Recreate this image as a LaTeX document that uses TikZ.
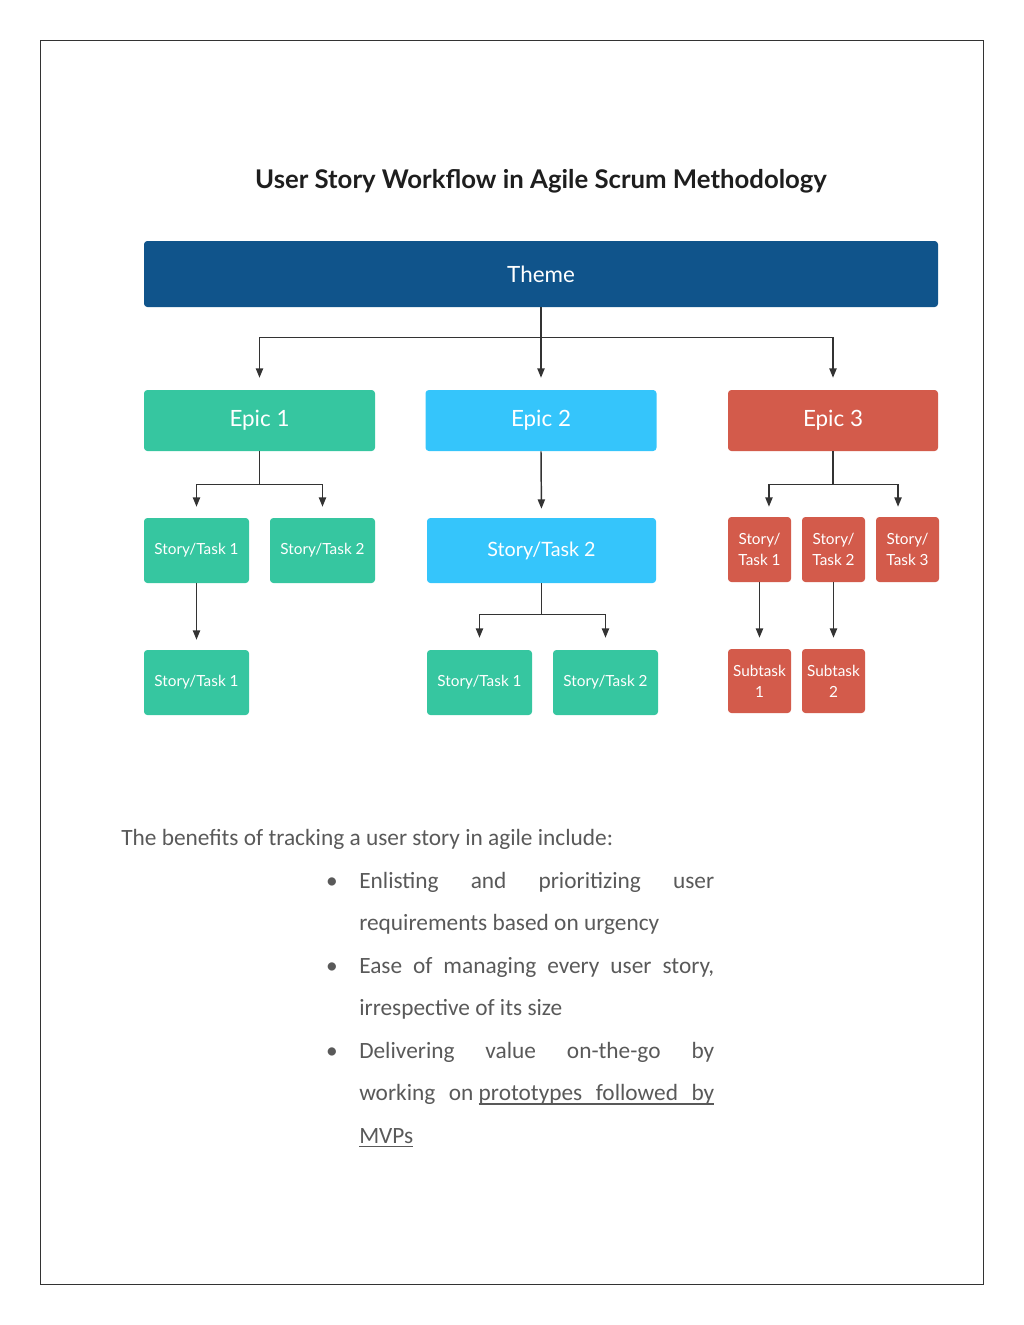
\documentclass[tikz,border=0pt]{standalone}
\usepackage{fontspec}
\setmainfont{Carlito}
\newfontfamily\boxfont{Lato}
\usetikzlibrary{arrows.meta}

\definecolor{themeblue}{HTML}{10548B}
\definecolor{epicgreen}{HTML}{36C6A0}
\definecolor{epicblue}{HTML}{35C5FB}
\definecolor{epicred}{HTML}{D35B4B}
\definecolor{linegray}{HTML}{333333}
\definecolor{textgray}{HTML}{595959}
\definecolor{titlegray}{HTML}{1E1E1E}

\hyphenpenalty=10000
\exhyphenpenalty=10000
\tolerance=10000

% underlined word and underlined stretchy space
\newcommand\ulw[1]{\leavevmode\setbox0\hbox{#1}%
  \rlap{\vrule height -2.1pt depth 3pt width \wd0}\box0}
\newcommand\uls{\leaders\hrule height -2.1pt depth 3pt
  \hskip\fontdimen2\font plus\fontdimen3\font minus\fontdimen4\font}

\begin{document}
\begin{tikzpicture}[%
      x=0.75pt, y=-0.75pt,
      every node/.style={inner sep=2pt, align=center},
      box/.style={rounded corners=2.5pt, text=white,
                  font={\boxfont\fontsize{11.5}{15.75}\selectfont}},
      bsize/.style 2 args={minimum width=#1*0.75pt, minimum height=#2*0.75pt},
      big/.style={font={\boxfont\fontsize{16.8}{20}\selectfont}},
      link/.style={draw=linegray, line width=1.1pt},
      arr/.style={link, -{Triangle[length=7pt,width=5.4pt]},
                  shorten >=#1*0.75pt},
      body/.style={anchor=base west, inner sep=0pt, text=textgray,
                   font={\fontsize{17.5}{32}\selectfont}},
      item/.style={body, text width=266.25pt, align=justify}
    ]
    \useasboundingbox (0,0) rectangle (1024,1325);
    \draw[draw=linegray, line width=1.1pt] (40.5,40.5) rectangle (983.5,1284.5);

    \node[font={\boxfont\bfseries\fontsize{19.3}{23}\selectfont}, text=titlegray]
      (title) at (541,181) {User Story Workflow in Agile Scrum Methodology};

    % theme and epics
    \node[box, big, fill=themeblue, bsize={794}{66}] (theme) at (541,274) {Theme};
    \node[box, big, fill=epicgreen, bsize={231}{61}] (e1) at (259.5,420.5) {Epic 1};
    \node[box, big, fill=epicblue, bsize={231}{61}] (e2) at (541,420.5) {Epic 2};
    \node[box, big, fill=epicred, bsize={210}{61}] (e3) at (833,420.5) {Epic 3};

    % stories
    \node[box, fill=epicgreen, bsize={105}{65}] (s11) at (196.5,550.5) {Story/Task 1};
    \node[box, fill=epicgreen, bsize={105}{65}] (s12) at (322.5,550.5) {Story/Task 2};
    \node[box, fill=epicgreen, bsize={105}{65}] (s111) at (196.5,682.5) {Story/Task 1};
    \node[box, fill=epicblue, bsize={229}{65},
          font={\boxfont\fontsize{14.8}{18}\selectfont}] (s21) at (541.5,550.5) {Story/Task 2};
    \node[box, fill=epicgreen, bsize={105}{65}] (s211) at (479.5,682.5) {Story/Task 1};
    \node[box, fill=epicgreen, bsize={105}{65}] (s212) at (605.5,682.5) {Story/Task 2};
    \node[box, fill=epicred, bsize={63}{65}] (r1) at (759.5,549.5) {Story/\\Task 1};
    \node[box, fill=epicred, bsize={63}{65}] (r2) at (833.5,549.5) {Story/\\Task 2};
    \node[box, fill=epicred, bsize={63}{65}] (r3) at (907.5,549.5) {Story/\\Task 3};
    \node[box, fill=epicred, bsize={63}{64}] (r11) at (759.5,681) {Subtask\\1};
    \node[box, fill=epicred, bsize={63}{64}] (r21) at (833.5,681) {Subtask\\2};

    % connectors
    \draw[link] (theme.south) -- ++(0,30) coordinate (tj);
    \draw[arr=12] (tj) -| (e1.north);
    \draw[arr=12] (tj) -- (e2.north);
    \draw[arr=12] (tj) -| (e3.north);

    \draw[link] (e1.south) -- ++(0,33) coordinate (aj);
    \draw[arr=11] (aj) -| (s11.north);
    \draw[arr=11] (aj) -| (s12.north);
    \draw[arr=10] (s11.south) -- (s111.north);

    \draw[arr=9] (e2.south) -- (s21.north);
    \draw[link] (s21.south) -- ++(0,31) coordinate (bj);
    \draw[arr=12] (bj) -| (s211.north);
    \draw[arr=12] (bj) -| (s212.north);

    \draw[link] (e3.south) -- ++(0,33) coordinate (cj);
    \draw[arr=10] (cj) -| ([xshift=7.1pt]r1.north);
    \draw[arr=10] (cj) -| ([xshift=-7.1pt]r3.north);
    \draw[arr=11] (r1.south) -- (r11.north);
    \draw[arr=11] (r2.south) -- (r21.north);

    % benefits
    \node[body] (intro) at (121,845) {The benefits of tracking a user story in agile include:};
    \node[body, anchor=base] (d1) at (332,888) {\textbullet};
    \node[item] (i1) at (359,888) {Enlisting and prioritizing user\linebreak
      requirements based on urgency};
    \node[body, anchor=base] (d2) at (332,973) {\textbullet};
    \node[item] (i2) at (359,973) {Ease of managing every user story,\linebreak
      irrespective of its size};
    \node[body, anchor=base] (d3) at (332,1058) {\textbullet};
    \node[item] (i3) at (359,1058) {Delivering value on-the-go by\linebreak
      working on\hskip\fontdimen2\font\ulw{prototypes}\uls\ulw{followed}\uls\ulw{by}\linebreak
      \ulw{MVPs}};
  \end{tikzpicture}
\end{document}
